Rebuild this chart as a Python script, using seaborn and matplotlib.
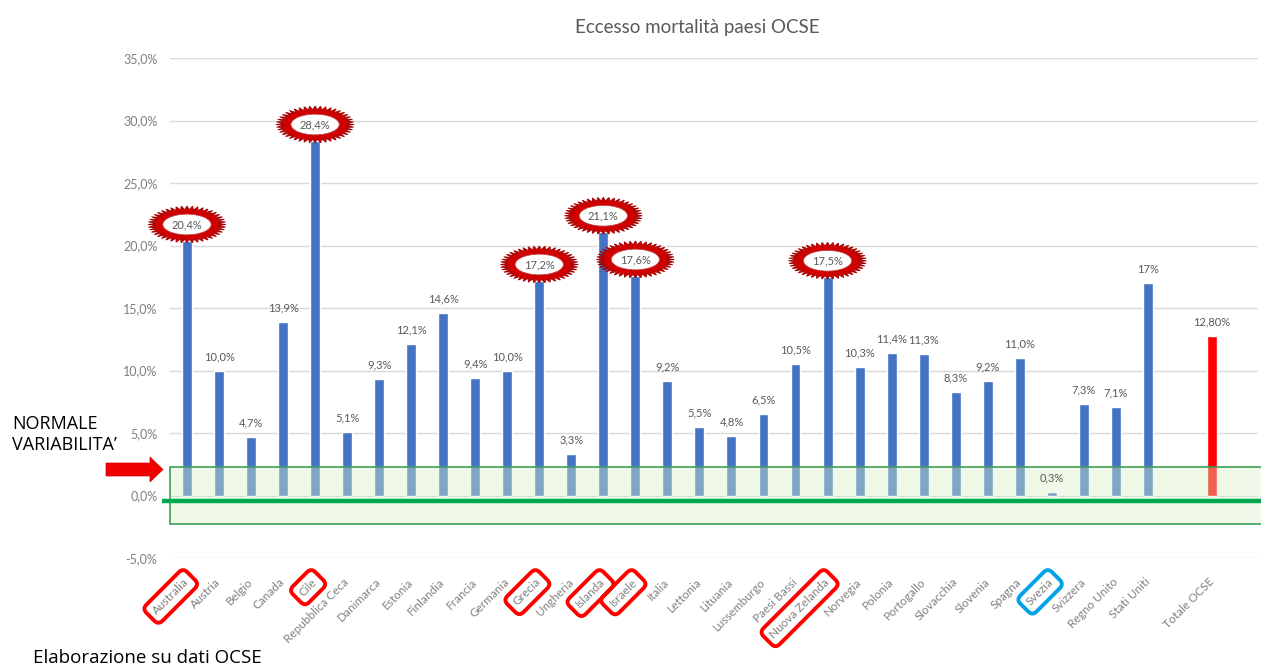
import numpy as np
import pandas as pd
import matplotlib
matplotlib.use("Agg")
import matplotlib.pyplot as plt
import matplotlib.patches as mpatches
import seaborn as sns

# Eccesso di mortalità per paese (%)
paesi = ["Australia", "Austria", "Belgio", "Canada", "Cile", "Repubblica Ceca",
         "Danimarca", "Estonia", "Finlandia", "Francia", "Germania", "Grecia",
         "Ungheria", "Islanda", "Israele", "Italia", "Lettonia", "Lituania",
         "Lussemburgo", "Paesi Bassi", "Nuova Zelanda", "Norvegia", "Polonia",
         "Portogallo", "Slovacchia", "Slovenia", "Spagna", "Svezia", "Svizzera",
         "Regno Unito", "Stati Uniti", "Totale OCSE"]
eccesso = [20.4, 10.0, 4.7, 13.9, 28.4, 5.1, 9.3, 12.1, 14.6, 9.4, 10.0, 17.2,
           3.3, 21.1, 17.6, 9.2, 5.5, 4.8, 6.5, 10.5, 17.5, 10.3, 11.4, 11.3,
           8.3, 9.2, 11.0, 0.3, 7.3, 7.1, 17.0, 12.80]
decimali = [1] * 30 + [0, 2]

evidenziati_rossi = ["Australia", "Cile", "Grecia", "Islanda", "Israele", "Nuova Zelanda"]
evidenziati_blu = ["Svezia"]
con_stella = ["Australia", "Cile", "Grecia", "Islanda", "Israele", "Nuova Zelanda"]

banda_normale = (-2.3, 2.3)
linea_riferimento = -0.4
y_ticks = [-5, 0, 5, 10, 15, 20, 25, 30, 35]

W, H = 1261, 671
BLU = "#4472C4"
ROSSO = "#FF0000"
GRIGIO = "#595959"

sns.set_style("white")
plt.rcParams["font.family"] = ["Lato", "DejaVu Sans"]

df = pd.DataFrame({"paese": paesi, "eccesso": eccesso})
ordine = paesi[:-1] + [" "] + paesi[-1:]
colori = {p: BLU for p in paesi}
colori["Totale OCSE"] = ROSSO

fig = plt.figure(figsize=(W / 100, H / 100), dpi=100)
ax_l, ax_r, ax_t, ax_b = 170, 1258, 58, 558
ax = fig.add_axes([ax_l / W, 1 - ax_b / H, (ax_r - ax_l) / W, (ax_b - ax_t) / H])

sns.barplot(data=df, x="paese", y="eccesso", order=ordine, hue="paese",
            palette=colori, width=0.31, saturation=1, legend=False, ax=ax)

xlim = (-0.53, 33.44)
ylim = (-5, 35)
ax.set_xlim(*xlim)
ax.set_ylim(*ylim)
px_x = (ax_r - ax_l) / (xlim[1] - xlim[0])
px_y = (ax_b - ax_t) / (ylim[1] - ylim[0])

for s in ax.spines.values():
    s.set_visible(False)
ax.set_axisbelow(True)
ax.yaxis.grid(True, color="#d9d9d9", lw=1)
ax.set_xlabel("")
ax.set_ylabel("")

ax.set_yticks(y_ticks)
ax.set_yticklabels([f"{v:.1f}".replace(".", ",") + "%" for v in y_ticks])
ax.tick_params(axis="y", length=0, pad=9, labelcolor="#7f7f7f", labelsize=9)

ax.set_xticks(range(len(ordine)))
ax.set_xticklabels([p.strip() for p in ordine], rotation=45, ha="right",
                   va="center", rotation_mode="anchor")
ax.tick_params(axis="x", length=0, pad=16, labelcolor="#808080", labelsize=8.5)
for t in ax.get_xticklabels():
    nome = t.get_text()
    if nome in evidenziati_rossi or nome in evidenziati_blu:
        ec = "#FF0000" if nome in evidenziati_rossi else "#00A2E8"
        t.set_bbox(dict(boxstyle="round,pad=0.5,rounding_size=0.5",
                        fc="none", ec=ec, lw=2.8))


def stella(xc, yc, rx, ry, n=44):
    k = np.arange(2 * n)
    t = np.pi * k / n
    r = np.where(k % 2 == 0, 1.0, 0.80)
    xs = xc + r * np.cos(t) * rx / px_x
    ys = yc + r * np.sin(t) * ry / px_y
    ax.add_patch(mpatches.Polygon(np.c_[xs, ys], closed=True, fc="#D00000",
                                  ec="#A00000", lw=0.6, zorder=6, clip_on=False))
    ax.add_patch(mpatches.Ellipse((xc, yc), 2 * 0.62 * rx / px_x,
                                  2 * 0.56 * ry / px_y, fc="white",
                                  ec="#C04040", lw=0.6, zorder=7, clip_on=False))


for p, v, d in zip(paesi, eccesso, decimali):
    i = ordine.index(p)
    testo = f"{v:.{d}f}".replace(".", ",") + "%"
    if p in con_stella:
        yc = v + 16 / px_y
        stella(i, yc, 39, 18.5)
        ax.text(i, yc, testo, ha="center", va="center", fontsize=8,
                color=GRIGIO, zorder=8)
    else:
        ax.annotate(testo, (i, v), xytext=(0, 10), textcoords="offset points",
                    ha="center", va="center", fontsize=8, color=GRIGIO, zorder=8)

# fascia di normale variabilità
ax.add_patch(mpatches.Rectangle((xlim[0], banda_normale[0]), 34.5,
                                banda_normale[1] - banda_normale[0],
                                fc=(0.86, 0.95, 0.78, 0.40), ec="#3E9E56",
                                lw=1.2, zorder=3, clip_on=False))
ax.plot([xlim[0] - 0.25, 34.0], [linea_riferimento] * 2, color="#00A84F",
        lw=3.2, zorder=4, clip_on=False, solid_capstyle="butt")

# freccia rossa
freccia_px = [(106, 463), (150, 463), (150, 457), (163, 469.5), (150, 482),
              (150, 476), (106, 476)]
fig.patches.append(mpatches.Polygon([(x / W, 1 - y / H) for x, y in freccia_px],
                                    closed=True, fc="#F00000", ec="#D00000",
                                    lw=0.5, transform=fig.transFigure,
                                    figure=fig))

fig.text(697 / W, 1 - 28 / H, "Eccesso mortalità paesi OCSE", ha="center",
         va="center", fontsize=13.5, color=GRIGIO)
fig.text(12 / W, 1 - 424 / H, "NORMALE", ha="left", va="center",
         fontsize=13, color="black", family=["Open Sans", "DejaVu Sans"])
fig.text(12 / W, 1 - 445 / H, "VARIABILITA’", ha="left", va="center",
         fontsize=13, color="black", family=["Open Sans", "DejaVu Sans"])
fig.text(33 / W, 1 - 658 / H, "Elaborazione su dati OCSE", ha="left",
         va="center", fontsize=13.5, color="black",
         family=["Open Sans", "DejaVu Sans"])

fig.savefig("out.png", dpi=100)
